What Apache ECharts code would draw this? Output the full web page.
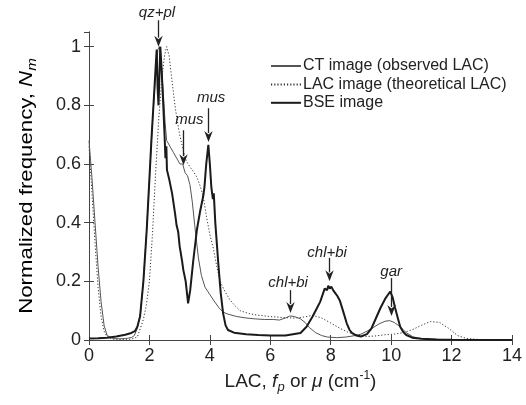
<!DOCTYPE html>
<html>
<head>
<meta charset="utf-8">
<script src="https://cdn.jsdelivr.net/npm/echarts@6/dist/echarts.min.js"></script>
<style>html,body{margin:0;padding:0;background:#fff}#c{width:526px;height:405px}</style>
</head>
<body>
<div id="c"></div>
<script>
// ---- data ----
var xTicks = [0, 2, 4, 6, 8, 10, 12, 14];
var yTicks = [0, 0.2, 0.4, 0.6, 0.8, 1];

var seriesNames = ['CT image (observed LAC)', 'LAC image (theoretical LAC)', 'BSE image'];

var ctX = [0, 0.1, 0.2, 0.3, 0.4, 0.5, 0.6, 0.8, 1.0, 1.2, 1.4, 1.5, 1.6, 1.7, 1.8, 1.9, 2.0, 2.1, 2.2, 2.28, 2.33, 2.4, 2.46, 2.52, 2.57, 2.68, 2.79, 2.9, 3.01, 3.1, 3.18, 3.26, 3.34, 3.42, 3.5, 3.62, 3.72, 3.84, 4.0, 4.12, 4.3, 4.44, 4.6, 4.89, 5.2, 5.5, 5.8, 6.1, 6.3, 6.5, 6.65, 6.8, 7.0, 7.15, 7.3, 7.5, 7.7, 7.9, 8.2, 8.5, 8.8, 9.0, 9.2, 9.4, 9.6, 9.8, 9.95, 10.1, 10.3, 10.5, 10.7, 10.9, 11.2, 11.6, 12, 13, 14];
var ctY = [0.68, 0.55, 0.4, 0.25, 0.13, 0.05, 0.015, 0.005, 0.004, 0.005, 0.008, 0.015, 0.04, 0.09, 0.2, 0.36, 0.55, 0.74, 0.9, 0.99, 1.0, 0.93, 0.84, 0.74, 0.68, 0.66, 0.64, 0.62, 0.6, 0.6, 0.57, 0.56, 0.53, 0.47, 0.39, 0.28, 0.22, 0.18, 0.155, 0.136, 0.11, 0.095, 0.088, 0.08, 0.075, 0.072, 0.07, 0.07, 0.068, 0.075, 0.082, 0.08, 0.072, 0.06, 0.042, 0.025, 0.015, 0.01, 0.008, 0.01, 0.015, 0.02, 0.03, 0.042, 0.055, 0.064, 0.066, 0.06, 0.045, 0.025, 0.012, 0.006, 0.003, 0.002, 0.001, 0, 0];

var lacX = [0, 0.1, 0.2, 0.3, 0.4, 0.5, 0.6, 0.8, 1.0, 1.2, 1.4, 1.6, 1.7, 1.8, 1.9, 2.0, 2.1, 2.2, 2.3, 2.4, 2.5, 2.57, 2.65, 2.74, 2.82, 2.9, 3.0, 3.12, 3.22, 3.34, 3.45, 3.57, 3.68, 3.78, 3.89, 4.0, 4.12, 4.23, 4.34, 4.5, 4.67, 4.85, 5.0, 5.3, 5.55, 6.0, 6.5, 6.8, 7.1, 7.4, 7.7, 8.0, 8.3, 8.6, 8.9, 9.2, 9.5, 9.8, 10.1, 10.4, 10.7, 11.0, 11.3, 11.6, 11.9, 12.2, 12.5, 13, 14];
var lacY = [0.66, 0.5, 0.33, 0.18, 0.08, 0.03, 0.01, 0.003, 0.002, 0.002, 0.003, 0.01, 0.04, 0.07, 0.12, 0.2, 0.36, 0.56, 0.74, 0.88, 0.97, 1.0, 0.97, 0.89, 0.82, 0.76, 0.7, 0.647, 0.61, 0.59, 0.575, 0.555, 0.525, 0.49, 0.42, 0.36, 0.31, 0.25, 0.2, 0.165, 0.136, 0.115, 0.1, 0.09, 0.085, 0.08, 0.076, 0.075, 0.078, 0.084, 0.075, 0.058, 0.04, 0.025, 0.016, 0.012, 0.014, 0.018, 0.02, 0.025, 0.035, 0.05, 0.063, 0.06, 0.04, 0.015, 0.005, 0.001, 0];

var bseX = [0, 0.3, 0.6, 0.9, 1.2, 1.4, 1.52, 1.6, 1.69, 1.8, 1.91, 2.0, 2.07, 2.15, 2.2, 2.24, 2.27, 2.3, 2.33, 2.36, 2.4, 2.45, 2.5, 2.53, 2.56, 2.58, 2.65, 2.75, 2.85, 2.9, 2.95, 3.0, 3.08, 3.12, 3.2, 3.28, 3.35, 3.45, 3.57, 3.68, 3.78, 3.82, 3.88, 3.95, 4.0, 4.05, 4.1, 4.13, 4.18, 4.28, 4.36, 4.44, 4.52, 4.6, 4.8, 5.2, 5.6, 6.0, 6.5, 7.0, 7.2, 7.4, 7.55, 7.65, 7.75, 7.8, 7.85, 7.88, 7.92, 7.97, 8.02, 8.08, 8.15, 8.22, 8.3, 8.42, 8.53, 8.62, 8.7, 8.85, 9.0, 9.2, 9.35, 9.5, 9.65, 9.8, 9.9, 9.97, 10.05, 10.13, 10.22, 10.3, 10.4, 10.5, 10.7, 11.0, 11.5, 12, 14];
var bseY = [0.005, 0.006, 0.008, 0.012, 0.018, 0.024, 0.03, 0.045, 0.08, 0.2, 0.375, 0.55, 0.69, 0.83, 0.92, 0.99, 0.86, 0.8, 0.9, 1.0, 0.93, 0.82, 0.7, 0.62, 0.66, 0.58, 0.55, 0.5, 0.43, 0.39, 0.37, 0.32, 0.27, 0.24, 0.2, 0.125, 0.17, 0.27, 0.375, 0.44, 0.49, 0.52, 0.6, 0.665, 0.6, 0.52, 0.48, 0.5, 0.4, 0.26, 0.16, 0.09, 0.05, 0.034, 0.025, 0.02, 0.017, 0.015, 0.015, 0.024, 0.045, 0.08, 0.11, 0.13, 0.16, 0.175, 0.18, 0.17, 0.185, 0.175, 0.182, 0.17, 0.16, 0.15, 0.135, 0.095, 0.057, 0.035, 0.024, 0.015, 0.012, 0.02, 0.04, 0.075, 0.11, 0.14, 0.155, 0.165, 0.145, 0.11, 0.075, 0.045, 0.027, 0.017, 0.008, 0.004, 0.002, 0.001, 0];

// annotations: label, arrow x, arrow start y, arrow tip y, label centre (x, y) in data units
var annText = ['qz+pl', 'mus', 'mus', 'chl+bi', 'chl+bi', 'gar'];
var annX = [2.27, 3.1, 3.95, 6.65, 7.95, 10.0];
var annY0 = [1.09, 0.715, 0.79, 0.17, 0.28, 0.211];
var annY1 = [1.0, 0.596, 0.675, 0.092, 0.2, 0.082];
var annLabelX = [2.25, 3.32, 4.04, 6.59, 7.88, 10.0];
var annLabelY = [1.114, 0.75, 0.825, 0.194, 0.296, 0.232];

function zip(xs, ys) { return xs.map(function (x, i) { return [x, ys[i]]; }); }

var FONT = 'Liberation Sans, Arial, Helvetica, sans-serif';
var chart = echarts.init(document.getElementById('c'), null, { renderer: 'canvas' });

var frameColor = '#444';
var ink = '#222';
function axisCommon(extra) {
  var o = {
    axisLine: { show: true, lineStyle: { color: frameColor, width: 1 } },
    axisTick: { show: true, inside: true, length: 5, lineStyle: { color: frameColor } },
    splitLine: { show: false }
  };
  for (var k in extra) o[k] = extra[k];
  return o;
}
function richStyles(size) {
  return {
    a: { fontSize: size, fontFamily: FONT, color: ink, lineHeight: 24, verticalAlign: 'middle' },
    i: { fontSize: size, fontFamily: FONT, fontStyle: 'italic', color: ink, lineHeight: 24, verticalAlign: 'middle' },
    s: { fontSize: 13, fontFamily: FONT, fontStyle: 'italic', color: ink, lineHeight: 10, verticalAlign: 'bottom' },
    u: { fontSize: 12, fontFamily: FONT, color: ink, lineHeight: 12, verticalAlign: 'top' }
  };
}

var option = {
  animation: false,
  textStyle: { fontFamily: FONT },
  grid: { left: 89, right: 14, top: 32, bottom: 65, containLabel: false },
  legend: {
    orient: 'vertical', left: 265, top: 53, itemGap: 2.4, itemWidth: 30, itemHeight: 14,
    data: seriesNames,
    itemStyle: { opacity: 0, borderWidth: 0 },
    textStyle: { fontSize: 16, color: ink, fontFamily: FONT, lineHeight: 14, padding: [0, 0, 0, -3] }
  },
  xAxis: [
    axisCommon({
      type: 'value', min: 0, max: 14, interval: 2, position: 'bottom',
      axisLabel: { fontSize: 18, color: ink, margin: 7, fontFamily: FONT },
      name: '{a|LAC, }{i|f}{s|p}{a| or }{i|μ}{a| (cm}{u|-1}{a|)}',
      nameLocation: 'middle', nameGap: 21,
      nameTextStyle: { fontFamily: FONT, color: ink, rich: richStyles(19) }
    }),
    axisCommon({
      type: 'value', min: 0, max: 14, interval: 2, position: 'top',
      axisLabel: { show: false }
    })
  ],
  yAxis: [
    axisCommon({
      type: 'value', min: 0, max: 1.05, interval: 0.2, position: 'left',
      axisLabel: { fontSize: 18, color: ink, margin: 8, showMaxLabel: false, fontFamily: FONT }
    }),
    axisCommon({
      type: 'value', min: 0, max: 1.05, interval: 0.2, position: 'right',
      axisLabel: { show: false }
    })
  ],
  series: [
    {
      name: seriesNames[0], type: 'line', data: zip(ctX, ctY), showSymbol: false, symbol: 'none',
      lineStyle: { color: '#555', width: 1 }, itemStyle: { color: '#555' }, z: 3
    },
    {
      name: seriesNames[1], type: 'line', data: zip(lacX, lacY), showSymbol: false, symbol: 'none',
      lineStyle: { color: '#333', width: 1, type: [1.2, 2] }, itemStyle: { color: '#333' }, z: 2
    },
    {
      name: seriesNames[2], type: 'line', data: zip(bseX, bseY), showSymbol: false, symbol: 'none',
      lineStyle: { color: '#1a1a1a', width: 2 }, itemStyle: { color: '#1a1a1a' }, z: 4
    }
  ]
};
chart.setOption(option);

// annotation arrows and labels, positioned through the chart's own scales
var graphics = [];
annText.forEach(function (t, i) {
  var p0 = chart.convertToPixel({ gridIndex: 0 }, [annX[i], annY0[i]]);
  var p1 = chart.convertToPixel({ gridIndex: 0 }, [annX[i], annY1[i]]);
  var pl = chart.convertToPixel({ gridIndex: 0 }, [annLabelX[i], annLabelY[i]]);
  var x = Math.round(p0[0]) + 0.5;
  var headH = 11, headW = 4.2;
  graphics.push({
    type: 'line', silent: true, z: 10,
    shape: { x1: x, y1: p0[1], x2: x, y2: p1[1] - headH + 2 },
    style: { stroke: ink, lineWidth: 1.3 }
  });
  graphics.push({
    type: 'polygon', silent: true, z: 10,
    shape: { points: [[x - headW, p1[1] - headH], [x, p1[1] - headH + 3.5], [x + headW, p1[1] - headH], [x, p1[1]]] },
    style: { fill: ink }
  });
  graphics.push({
    type: 'text', silent: true, z: 10,
    x: pl[0], y: pl[1],
    style: { text: t, fontSize: 15, fontStyle: 'italic', fontFamily: FONT, fill: ink, align: 'center', verticalAlign: 'middle' }
  });
});

// y-axis title (rotated), centred on the plot's vertical middle
var yMid = (chart.convertToPixel({ gridIndex: 0 }, [0, 0])[1] + 32) / 2;
graphics.push({
  type: 'text', silent: true, x: 27, y: yMid, rotation: Math.PI / 2, scaleX: 1.17,
  style: {
    text: '{a|Normalized frequency, }{i|N}{s|m}', align: 'center', verticalAlign: 'middle',
    rich: richStyles(19)
  }
});
chart.setOption({ graphic: graphics });
</script>
</body>
</html>
